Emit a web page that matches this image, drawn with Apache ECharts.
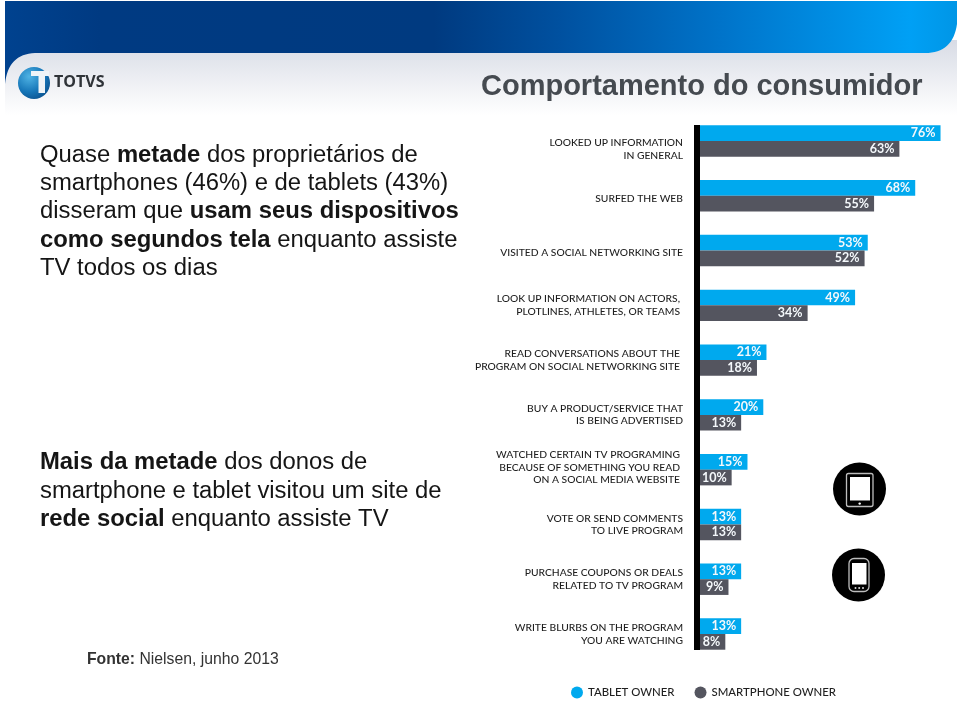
<!DOCTYPE html>
<html><head><meta charset="utf-8">
<style>html,body{margin:0;padding:0;background:#fff}#c{width:960px;height:703px}</style>
<script src="https://cdn.jsdelivr.net/npm/echarts@6/dist/echarts.min.js"></script>
</head><body><div id="c"></div>
<script>
const categories = [
 'LOOKED UP INFORMATION\nIN GENERAL',
 'SURFED THE WEB',
 'VISITED A SOCIAL NETWORKING SITE',
 'LOOK UP INFORMATION ON ACTORS,\nPLOTLINES, ATHLETES, OR TEAMS',
 'READ CONVERSATIONS ABOUT THE\nPROGRAM ON SOCIAL NETWORKING SITE',
 'BUY A PRODUCT/SERVICE THAT\nIS BEING ADVERTISED',
 'WATCHED CERTAIN TV PROGRAMING\nBECAUSE OF SOMETHING YOU READ\nON A SOCIAL MEDIA WEBSITE',
 'VOTE OR SEND COMMENTS\nTO LIVE PROGRAM',
 'PURCHASE COUPONS OR DEALS\nRELATED TO TV PROGRAM',
 'WRITE BLURBS ON THE PROGRAM\nYOU ARE WATCHING'
];
const tabletOwner = [76,68,53,49,21,20,15,13,13,13];
const smartphoneOwner = [63,55,52,34,18,13,10,13,9,8];
const seriesNames = ['TABLET OWNER','SMARTPHONE OWNER'];
const headline = 'Comportamento do consumidor';

const ARIAL = '"Liberation Sans", Arial, sans-serif';
const labelFont = 'Lato, sans-serif';
const labelNudge = [16,5,4,0,0,0,-4,0,0,0];
const labelRightPad = [0,0,0,3,3,0,3,0,0,0];

function qcurve(p0,c,p1){const out=[];for(let i=0;i<=16;i++){const t=i/16,u=1-t;out.push([u*u*p0[0]+2*u*t*c[0]+t*t*p1[0],u*u*p0[1]+2*u*t*c[1]+t*t*p1[1]]);}return out;}
const bandOutline=[[5,1],[957,1],...qcurve([957,24],[953,53],[925,53]),...qcurve([35,53],[8,54],[5,84])];

function para(top, text, size, color){
  return {type:'text', z:5, x:40, y:top, silent:true, style:{
    text:text, fontFamily:ARIAL, fontSize:size, fill:color, lineHeight:28.3, rich:{
      b:{fontWeight:'bold',fontFamily:ARIAL,fontSize:size,fill:color,lineHeight:28.3},
      n:{fontFamily:ARIAL,fontSize:size,fill:color,lineHeight:28.3}
    }}};
}
const chrome = [
 {type:'rect', z:1, silent:true, shape:{x:5,y:40,width:952,height:75},
  style:{fill:{type:'linear',x:0,y:0,x2:0,y2:1,colorStops:[{offset:0,color:'#d8dbe5'},{offset:0.18,color:'#dfe2ea'},{offset:1,color:'#ffffff'}]}}},
 {type:'polygon', z:2, silent:true, shape:{points:bandOutline},
  style:{fill:{type:'linear',x:0,y:0,x2:1,y2:0,colorStops:[{offset:0,color:'#00428f'},{offset:0.1,color:'#003a82'},{offset:0.45,color:'#003a80'},{offset:0.58,color:'#00509f'},{offset:0.75,color:'#0073c9'},{offset:0.95,color:'#00a0f5'},{offset:1,color:'#0096e6'}]}}},
 {type:'circle', z:3, silent:true, shape:{cx:34,cy:83,r:16},
  style:{fill:{type:'radial',x:0.35,y:0.3,r:0.8,colorStops:[{offset:0,color:'#4fb3e4'},{offset:0.6,color:'#1676b8'},{offset:1,color:'#0a4f8c'}]}}},
 {type:'rect', z:4, silent:true, shape:{x:31,y:71,width:18,height:5}, style:{fill:'#eef4f8'}},
 {type:'rect', z:4, silent:true, shape:{x:38.5,y:71,width:6.5,height:22}, style:{fill:'#eef4f8'}},
 {type:'text', z:4, silent:true, x:54, y:74.5, style:{text:'TOTVS',fontFamily:'"Open Sans",sans-serif',fontWeight:'bold',fontSize:16,fill:'#2f3338'}},
 {type:'text', z:5, silent:true, x:481, y:72.5, style:{text:headline,fontFamily:ARIAL,fontWeight:'bold',fontSize:29,fill:'#454a50'}},
 para(141,'Quase {b|metade} dos proprietários de\nsmartphones (46%) e de tablets (43%)\ndisseram que {b|usam seus dispositivos}\n{b|como segundos tela} enquanto assiste\nTV todos os dias',23.85,'#151515'),
 para(448.5,'{b|Mais da metade} dos donos de\nsmartphone e tablet visitou um site de\n{b|rede social} enquanto assiste TV',23.85,'#151515'),
 {type:'text', z:5, silent:true, x:87, y:651.5, style:{text:'{b|Fonte:} Nielsen, junho 2013',fontFamily:ARIAL,fontSize:15.75,fill:'#333',
   rich:{b:{fontWeight:'bold',fontFamily:ARIAL,fontSize:15.75,fill:'#333'}}}},
 {type:'rect', z:6, silent:true, shape:{x:694,y:125,width:6,height:525}, style:{fill:'#000'}},
 {type:'circle', z:5, silent:true, shape:{cx:859.5,cy:489,r:26.5}, style:{fill:'#000'}},
 {type:'rect', z:6, silent:true, shape:{x:846.5,y:473.5,width:26.5,height:33,r:2}, style:{fill:'none',stroke:'#bdbdbd',lineWidth:1.3}},
 {type:'rect', z:6, silent:true, shape:{x:850,y:477,width:20,height:23.5}, style:{fill:'#fff'}},
 {type:'circle', z:6, silent:true, shape:{cx:859.7,cy:503.6,r:1.2}, style:{fill:'#fff'}},
 {type:'circle', z:5, silent:true, shape:{cx:858.5,cy:575,r:26.5}, style:{fill:'#000'}},
 {type:'rect', z:6, silent:true, shape:{x:849,y:558.5,width:20,height:33,r:5}, style:{fill:'none',stroke:'#bdbdbd',lineWidth:1.3}},
 {type:'rect', z:6, silent:true, shape:{x:852,y:563,width:14.5,height:21.5}, style:{fill:'#fff'}},
 {type:'circle', z:6, silent:true, shape:{cx:855.5,cy:588,r:1}, style:{fill:'#ddd'}},
 {type:'circle', z:6, silent:true, shape:{cx:859.2,cy:588,r:1}, style:{fill:'#ddd'}},
 {type:'circle', z:6, silent:true, shape:{cx:863,cy:588,r:1}, style:{fill:'#ddd'}}
];
function categoryLabel(value,i){
  const lines=value.split('\n').map(l=>'{t|'+l+'}');
  const n=labelNudge[i];
  if(n>0) lines.unshift('{s'+n+'| }');
  if(n<0) lines.push('{s'+(-n)+'| }');
  return lines.join('\n');
}
const labelRich={t:{lineHeight:12.5,fontSize:10.3,fontFamily:labelFont,fontWeight:500,color:'#1f1f1f'}};
labelNudge.forEach(n=>{if(n) labelRich['s'+Math.abs(n)]={lineHeight:Math.abs(n),height:Math.abs(n),fontSize:2};});
function barLabel(){return {show:true,position:'insideRight',distance:5,color:'#f4f8fb',fontFamily:labelFont,fontWeight:'bold',fontSize:12.5,formatter:'{c}%'};}
const chart = echarts.init(document.getElementById('c'),null,{renderer:'canvas'});
chart.setOption({
  animation:false,
  backgroundColor:'#fff',
  graphic:chrome,
  legend:{left:571,top:686.5,padding:0,itemWidth:12,itemHeight:12,itemGap:20,icon:'circle',selectedMode:false,
    textStyle:{fontFamily:labelFont,fontWeight:500,fontSize:11.4,color:'#1f1f1f'},
    data:seriesNames},
  grid:{left:700,top:113.6,width:253.2,height:547.8,containLabel:false},
  xAxis:{type:'value',min:0,max:80,show:false},
  yAxis:{type:'category',inverse:true,
    data:categories.map((c,i)=>({value:c,textStyle:{padding:[0,labelRightPad[i],0,0]}})),
    axisLine:{show:false},axisTick:{show:false},
    axisLabel:{margin:17,interval:0,align:'right',fontFamily:labelFont,fontWeight:500,fontSize:10.3,color:'#1f1f1f',formatter:categoryLabel,rich:labelRich}},
  series:[
    {name:seriesNames[0],type:'bar',data:tabletOwner,barWidth:15.7,barGap:'0%',itemStyle:{color:'#00a9ee'},label:barLabel()},
    {name:seriesNames[1],type:'bar',data:smartphoneOwner,barWidth:15.7,itemStyle:{color:'#54555f'},label:barLabel()}
  ]
});
</script></body></html>
